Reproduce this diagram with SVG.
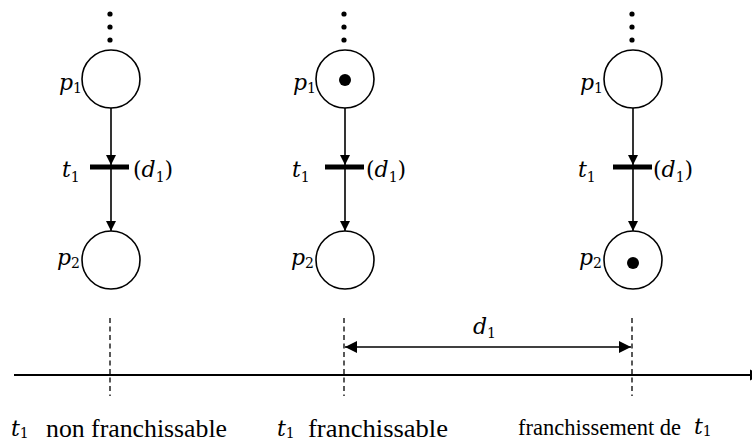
<svg xmlns="http://www.w3.org/2000/svg" width="752" height="443" viewBox="0 0 752 443">
<style>
.pl{fill:#fff;stroke:#000;stroke-width:1.6}
.arc{stroke:#000;stroke-width:1.6;fill:none}
.bar{fill:#000}
.tok{fill:#000}
.m{font-family:"DejaVu Serif",serif;font-style:italic;font-size:22px;fill:#000}
.mu{font-family:"DejaVu Serif",serif;font-style:normal;font-size:22px;fill:#000}
.s{font-family:"DejaVu Serif",serif;font-style:normal;font-size:14px}
.t{font-family:"Liberation Serif","Times New Roman",serif;font-size:25px;fill:#000}
.t3{font-size:22.5px}
.dash{stroke:#000;stroke-width:1.3;stroke-dasharray:5,3.5;fill:none}
.axis{stroke:#000;stroke-width:1.8;fill:none}
</style>
<defs>
<marker id="ah" viewBox="0 0 10 10" refX="10" refY="5" markerWidth="10" markerHeight="11" markerUnits="userSpaceOnUse" orient="auto">
<path d="M0,0 L10,5 L0,10 z" fill="#000"/>
</marker>
<marker id="ah2" viewBox="0 0 10 10" refX="10" refY="5" markerWidth="13" markerHeight="12" markerUnits="userSpaceOnUse" orient="auto-start-reverse">
<path d="M0,0 L10,5 L0,10 z" fill="#000"/>
</marker>
</defs>

<g id="connectors">
<line class="arc" x1="111" y1="108" x2="111" y2="165" marker-end="url(#ah)"/>
<line class="arc" x1="111" y1="167" x2="111" y2="231" marker-end="url(#ah)"/>
<line class="arc" x1="345" y1="108" x2="345" y2="165" marker-end="url(#ah)"/>
<line class="arc" x1="345" y1="167" x2="345" y2="231" marker-end="url(#ah)"/>
<line class="arc" x1="633" y1="108" x2="633" y2="165" marker-end="url(#ah)"/>
<line class="arc" x1="633" y1="167" x2="633" y2="231" marker-end="url(#ah)"/>
</g>

<g id="dots">
<circle cx="110" cy="14" r="2.6"/><circle cx="110" cy="27" r="2.6"/><circle cx="110" cy="40" r="2.6"/>
<circle cx="344" cy="14" r="2.6"/><circle cx="344" cy="27" r="2.6"/><circle cx="344" cy="40" r="2.6"/>
<circle cx="632" cy="14" r="2.6"/><circle cx="632" cy="27" r="2.6"/><circle cx="632" cy="40" r="2.6"/>
</g>

<g id="col1-p1"><circle class="pl" cx="111" cy="79" r="29"/><text class="m" x="59" y="90">p<tspan class="s" dy="3">1</tspan></text></g>
<g id="col1-t1"><rect class="bar" x="90" y="164.5" width="39" height="5"/><text class="m" x="62" y="177">t<tspan class="s" dy="5">1</tspan></text><text class="mu" x="133" y="177">(<tspan class="m">d</tspan><tspan class="s" dy="5">1</tspan><tspan dy="-5">)</tspan></text></g>
<g id="col1-p2"><circle class="pl" cx="111" cy="260" r="29"/><text class="m" x="57" y="265">p<tspan class="s" dy="3">2</tspan></text></g>

<g id="col2-p1"><circle class="pl" cx="345" cy="79" r="29"/><circle class="tok" cx="345" cy="80" r="6"/><text class="m" x="293" y="90">p<tspan class="s" dy="3">1</tspan></text></g>
<g id="col2-t1"><rect class="bar" x="325" y="164.5" width="39" height="5"/><text class="m" x="292" y="177">t<tspan class="s" dy="5">1</tspan></text><text class="mu" x="366" y="177">(<tspan class="m">d</tspan><tspan class="s" dy="5">1</tspan><tspan dy="-5">)</tspan></text></g>
<g id="col2-p2"><circle class="pl" cx="345" cy="260" r="29"/><text class="m" x="291" y="265">p<tspan class="s" dy="3">2</tspan></text></g>

<g id="col3-p1"><circle class="pl" cx="633" cy="79" r="29"/><text class="m" x="580" y="90">p<tspan class="s" dy="3">1</tspan></text></g>
<g id="col3-t1"><rect class="bar" x="613" y="164.5" width="39" height="5"/><text class="m" x="578" y="177">t<tspan class="s" dy="5">1</tspan></text><text class="mu" x="653" y="177">(<tspan class="m">d</tspan><tspan class="s" dy="5">1</tspan><tspan dy="-5">)</tspan></text></g>
<g id="col3-p2"><circle class="pl" cx="633" cy="260" r="29"/><circle class="tok" cx="633" cy="263" r="6"/><text class="m" x="579" y="265">p<tspan class="s" dy="3">2</tspan></text></g>

<g id="timeline">
<line class="dash" x1="110" y1="318" x2="110" y2="396"/>
<line class="dash" x1="344" y1="318" x2="344" y2="396"/>
<line class="dash" x1="632" y1="318" x2="632" y2="396"/>
<line class="axis" x1="14" y1="375" x2="750" y2="375"/>
<path d="M750,369.5 L762,375 L750,380.5 z" fill="#000"/>
<line class="arc" x1="345" y1="347" x2="631" y2="347" marker-start="url(#ah2)" marker-end="url(#ah2)"/>
<text class="m" x="473" y="334">d<tspan class="s" dy="4">1</tspan></text>
</g>

<g id="labels">
<text class="m" x="11" y="436">t<tspan class="s" dy="2">1</tspan></text>
<text class="t" x="46" y="437" textLength="181" lengthAdjust="spacingAndGlyphs">non franchissable</text>
<text class="m" x="277" y="436">t<tspan class="s" dy="2">1</tspan></text>
<text class="t" x="308" y="437" textLength="140" lengthAdjust="spacingAndGlyphs">franchissable</text>
<text class="t t3" x="518" y="435">franchissement de <tspan class="m" x="694" y="434">t</tspan><tspan class="s" dy="2">1</tspan></text>
</g>
</svg>
